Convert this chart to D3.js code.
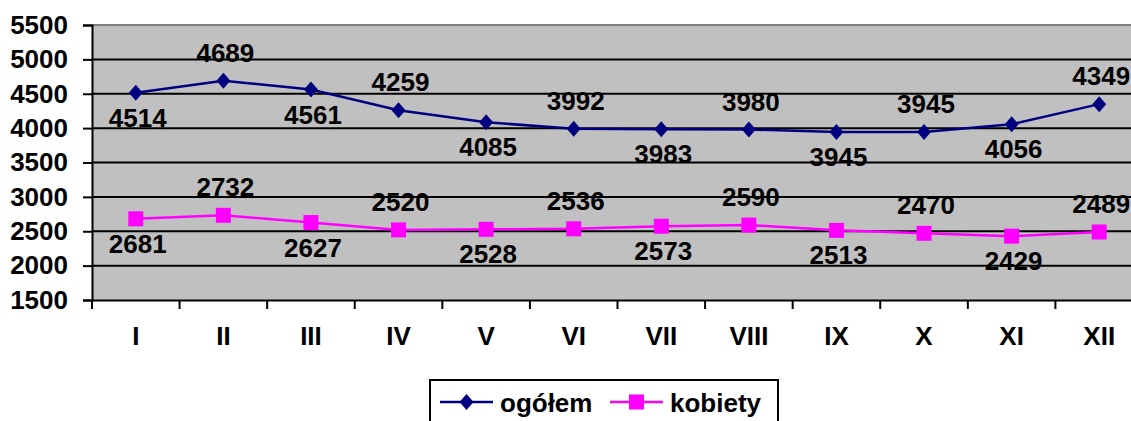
<!DOCTYPE html>
<html><head><meta charset="utf-8">
<script src="https://cdn.jsdelivr.net/npm/d3@7"></script>
<style>body{margin:0;background:#fff}svg{display:block}text{font-family:Arial,"Liberation Sans",sans-serif;font-weight:bold}</style>
</head><body><svg id="c" width="1131" height="421"></svg>
<script>
const months = ["I","II","III","IV","V","VI","VII","VIII","IX","X","XI","XII"];
const ogolem = [4514,4689,4561,4259,4085,3992,3983,3980,3945,3945,4056,4349];
const kobiety = [2681,2732,2627,2520,2528,2536,2573,2590,2513,2470,2429,2489];
const yTicks = [1500,2000,2500,3000,3500,4000,4500,5000,5500];
const seriesNames = ["ogółem","kobiety"];

const svg = d3.select("#c");
const L = 92, R = 1143, T = 25, B = 300;
const FS = 26;
const x = d3.scaleBand().domain(months).range([L, R]);
const y = d3.scaleLinear().domain([1500,5500]).range([B, T]);
const cx = m => x(m) + x.bandwidth()/2;

svg.append("rect").attr("x",L).attr("y",T).attr("width",R-L).attr("height",B-T).attr("fill","#c0c0c0");
svg.append("line").attr("x1",L).attr("x2",R).attr("y1",T).attr("y2",T).attr("stroke","#808080").attr("stroke-width",2);
svg.append("g").selectAll("line").data(yTicks.slice(1,-1)).join("line")
  .attr("x1",L).attr("x2",R).attr("y1",d=>y(d)).attr("y2",d=>y(d)).attr("stroke","#000").attr("stroke-width",2);

const ya = svg.append("g").attr("transform",`translate(${L},0)`)
  .call(d3.axisLeft(y).tickValues(yTicks).tickSize(9).tickPadding(15).tickFormat(d3.format("d")));
ya.selectAll("text").attr("font-size",FS).attr("fill","#000").style("font-family","Arial, 'Liberation Sans', sans-serif").style("font-weight","bold");
ya.selectAll("line,path").attr("stroke","#000").attr("stroke-width",2);

const xa = svg.append("g").attr("transform",`translate(0,${B})`)
  .call(d3.axisBottom(x).tickSize(0).tickPadding(27));
xa.selectAll("text").attr("font-size",FS).attr("fill","#000").style("font-family","Arial, 'Liberation Sans', sans-serif").style("font-weight","bold");
xa.select("path").attr("stroke","#000").attr("stroke-width",2);
xa.append("g").selectAll("line").data(d3.range(months.length+1)).join("line")
  .attr("x1",i=>L+i*x.bandwidth()).attr("x2",i=>L+i*x.bandwidth()).attr("y1",0).attr("y2",9).attr("stroke","#000").attr("stroke-width",2);

const series = [
  {name:seriesNames[0], vals:ogolem, color:"#000080", shape:"diamond"},
  {name:seriesNames[1], vals:kobiety, color:"#ff00ff", shape:"square"}
];
function marker(g, shape, color){
  if(shape==="diamond") g.append("path").attr("d","M0,-8L7,0L0,8L-7,0Z").attr("fill",color);
  else g.append("rect").attr("x",-7.5).attr("y",-7.5).attr("width",15).attr("height",15).attr("fill",color);
}
const line = d3.line().x((d,i)=>cx(months[i])).y(d=>y(d));
series.forEach(s=>{
  svg.append("path").datum(s.vals).attr("d",line).attr("fill","none").attr("stroke",s.color).attr("stroke-width",2.5);
  s.vals.forEach((v,i)=>{
    const g = svg.append("g").attr("transform",`translate(${cx(months[i])},${y(v)})`);
    marker(g,s.shape,s.color);
  });
  s.vals.forEach((v,i)=>{
    const above = i%2===1;
    svg.append("text").attr("x",cx(months[i])+2).attr("y",y(v)+(above?-28:25))
      .attr("text-anchor","middle").attr("dominant-baseline","central")
      .attr("font-size",FS).attr("fill","#000").text(v);
  });
});

// legend
const lg = svg.append("g");
lg.append("rect").attr("x",430).attr("y",380).attr("width",348).attr("height",60).attr("fill","#fff").attr("stroke","#000").attr("stroke-width",2);
const items = [{s:series[0],x0:440,tx:500},{s:series[1],x0:610,tx:670}];
items.forEach(it=>{
  lg.append("line").attr("x1",it.x0).attr("x2",it.x0+53).attr("y1",402).attr("y2",402).attr("stroke",it.s.color).attr("stroke-width",2.5);
  const g = lg.append("g").attr("transform",`translate(${it.x0+26.5},402)`);
  marker(g,it.s.shape,it.s.color);
  lg.append("text").attr("x",it.tx).attr("y",403).attr("dominant-baseline","central").attr("font-size",FS).attr("fill","#000").text(it.s.name);
});
</script></body></html>
